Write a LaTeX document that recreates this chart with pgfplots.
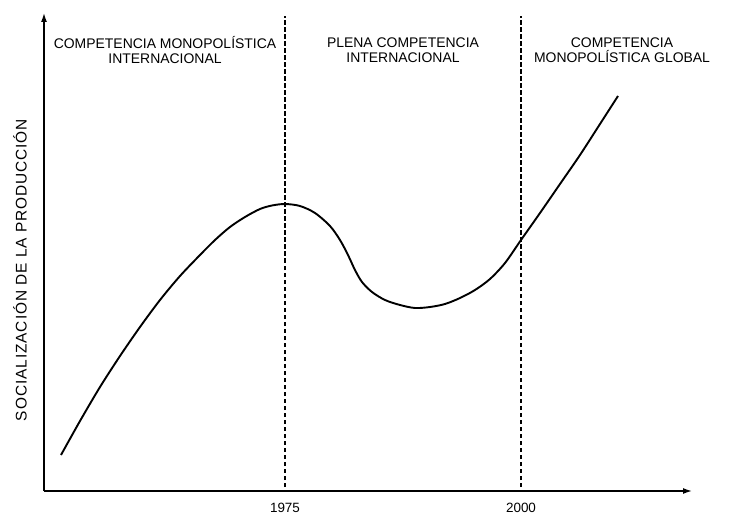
\documentclass[border=0pt]{standalone}
\usepackage{fontspec}
\setmainfont{Liberation Sans}
\usepackage{pgfplots}
\pgfplotsset{compat=1.18}
\usetikzlibrary{arrows.meta}
\pgfplotstableread{
x y
61 58
80 92
100 126
120 157
140 186
160 213
180 237
200 258
215 273
230 286
245 296
260 304
272 307.5
285 309
300 307
315 300
330 287
340 273
348 258
355 243
362 231
372 221
385 213
400 208
415 205
430 206
445 209
460 215
475 223
490 234
505 250
521 273
540 300
560 329
580 358
600 389
618 417
}\curve
\begin{document}
\begin{tikzpicture}
\begin{axis}[
  x=1bp, y=1bp,
  xmin=44, xmax=692, ymin=22, ymax=500,
  axis x line=bottom, axis y line=left,
  axis line style={line width=1.4bp, -{Latex[length=9bp,width=6bp]}},
  clip=false,
  /pgf/number format/assume math mode=true,
  xtick={285,521}, xticklabels={\textnormal{1975},\textnormal{2000}},
  ytick=\empty,
  major tick length=0pt,
  xticklabel style={font=\fontsize{13.5}{15}\selectfont, yshift=-9bp},
  anchor=origin,
]
\path (axis cs:0,0) rectangle (axis cs:730,513);
\addplot[black, line width=1.1bp, dash pattern=on 4.5bp off 2.5bp] coordinates {(285,26) (285,497)};
\addplot[black, line width=1.1bp, dash pattern=on 4.5bp off 2.5bp] coordinates {(521,26) (521,497)};
\addplot[black, line width=1.9bp, smooth, tension=0.5] table[x=x,y=y] {\curve};
\node[align=center, font=\fontsize{14}{15.5}\selectfont] at (axis cs:165,463) {COMPETENCIA MONOPOLÍSTICA\\INTERNACIONAL};
\node[align=center, font=\fontsize{14}{15.5}\selectfont] at (axis cs:403,463) {PLENA COMPETENCIA\\INTERNACIONAL};
\node[align=center, font=\fontsize{14}{15.5}\selectfont] at (axis cs:622,463) {COMPETENCIA\\MONOPOLÍSTICA GLOBAL};
\node[rotate=90, font=\fontsize{15.5}{17}\selectfont\addfontfeature{LetterSpace=6}] at (axis cs:20,243) {SOCIALIZACIÓN DE LA PRODUCCIÓN};
\end{axis}
\end{tikzpicture}
\end{document}
